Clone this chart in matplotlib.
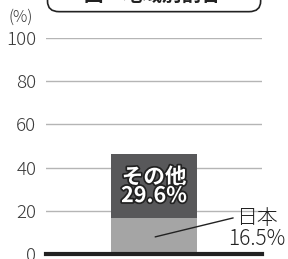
import matplotlib.pyplot as plt
import matplotlib.patheffects as pe
from matplotlib.patches import FancyBboxPatch

plt.rcParams['font.family'] = ['Noto Sans CJK JP', 'DejaVu Sans']

# 地域別割合 (%)
regions = ['日本', 'その他']
shares = [16.5, 29.6]
colors = ['#a5a5a5', '#58585a']
yticks = [0, 20, 40, 60, 80, 100]

fig = plt.figure(figsize=(2.88, 2.59), dpi=100)
ax = fig.add_axes([0.16, 0.0193, 0.75, 0.834])

bottom = 0
for name, val, c in zip(regions, shares, colors):
    ax.bar(0, val, width=0.4, bottom=bottom, color=c, zorder=2)
    bottom += val

ax.set_xlim(-0.5, 0.5)
ax.set_ylim(0, 100)
ax.set_yticks(yticks)
ax.set_xticks([])
for y in yticks[1:]:
    ax.axhline(y, color='#b5b5b5', lw=1, zorder=1)
ax.axhline(0, color='#222222', lw=3, zorder=3, clip_on=False)
for s in ax.spines.values():
    s.set_visible(False)
ax.tick_params(axis='y', length=0, pad=7, labelsize=13.5, labelcolor='#3a3a3a')
for t in ax.get_yticklabels():
    t.set_fontweight('light')

fig.text(0.028, 0.935, '(%)', fontsize=11.5, color='#3a3a3a', va='center',
         fontweight='light')

# その他 label inside the dark segment
ax.text(0, shares[0] + shares[1] / 2, f'{regions[1]}\n{shares[1]}%',
        ha='center', va='center', fontsize=15.5, color='white', fontweight='bold',
        linespacing=0.85, zorder=4,
        path_effects=[pe.withStroke(linewidth=2.5, foreground='#222222')])

# 日本 label with leader line
ax.annotate('', xy=(0.005, shares[0] * 0.48), xytext=(0.366, shares[0] + 0.2),
            arrowprops=dict(arrowstyle='-', color='#222222', lw=1,
                            shrinkA=0, shrinkB=0), zorder=4)
ax.text(0.477, shares[0] * 0.72, f'{regions[0]}\n{shares[0]}%', ha='center',
        va='center', fontsize=15, color='#222222', linespacing=0.95,
        fontweight='light', zorder=4, clip_on=False)

# title box (cut off at top)
box = FancyBboxPatch((0.165, 0.955), 0.74, 0.2, transform=fig.transFigure,
                     boxstyle='round,pad=0,rounding_size=0.04',
                     fc='white', ec='#222222', lw=1.2)
fig.patches.append(box)
fig.text(0.53, 0.982, '図　地域別割合', ha='center', va='bottom',
         fontsize=14, fontweight='bold', color='#222222')

fig.savefig('out.png', dpi=100)
